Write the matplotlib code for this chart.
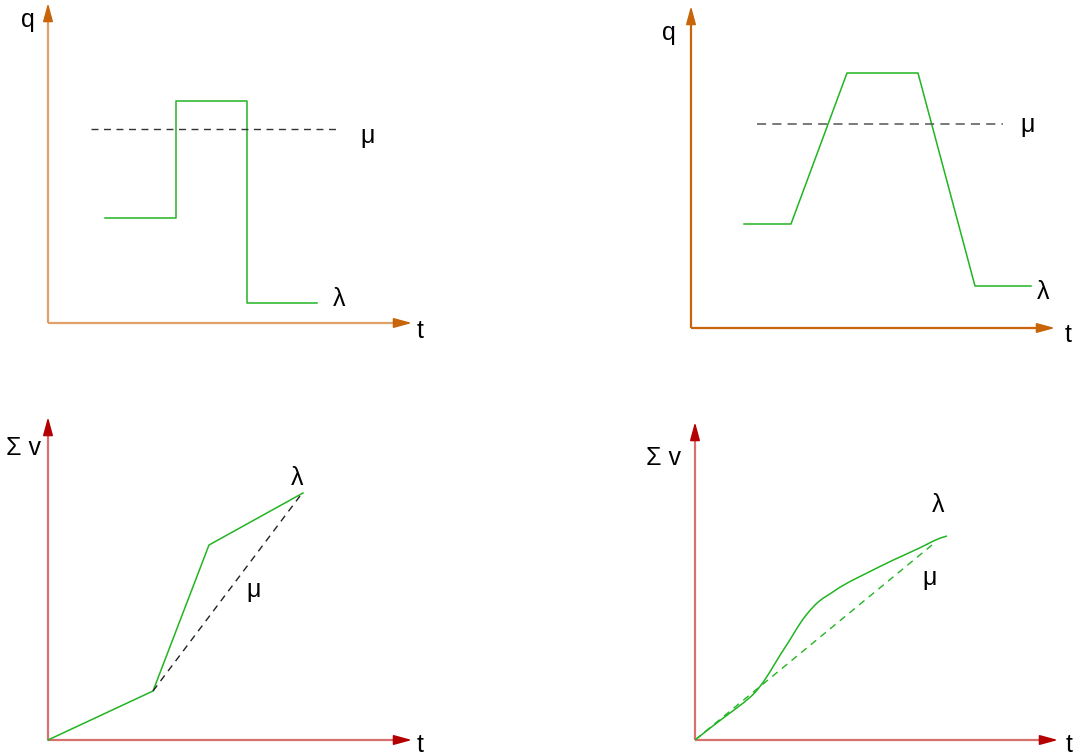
import numpy as np
import matplotlib.pyplot as plt
from matplotlib.path import Path
from matplotlib.patches import PathPatch

plt.rcParams['font.family'] = ['Liberation Sans', 'DejaVu Sans']

W, H = 1082, 755

# panel 1: step change of flow q over time t (units: px from origin)
p1_t = [57, 128, 128, 199, 199, 269]
p1_q = [105, 105, 222, 222, 20, 20]
p1_mu_t = [43, 290]
p1_mu_q = [194, 194]

# panel 2: ramped change of flow
p2_t = [53, 100, 156, 227, 284, 340]
p2_q = [104, 104, 255, 255, 42, 42]
p2_mu_t = [66, 312]
p2_mu_q = [204, 204]

# panel 3: cumulative volume, piecewise
p3_t = [0, 105, 161, 255]
p3_v = [0, 49, 195, 247]
p3_mu_t = [105, 252]
p3_mu_v = [49, 244]

# panel 4: cumulative volume, smooth
p4_t = [0, 15, 35, 55, 65, 75, 85, 95, 105, 115, 125, 135, 148, 172, 198, 225, 242, 252]
p4_v = [0, 12, 27, 42, 53, 68, 85, 100, 117, 130, 140, 146, 155, 167, 180, 192, 201, 204]
p4_mu_t = [0, 237]
p4_mu_v = [0, 195]

green = '#22b422'
orange_line = '#e0a068'
orange_head = '#c8640a'
red_line = '#d87070'
red_head = '#b40000'

fig = plt.figure(figsize=(W / 100, H / 100), dpi=100)


def panel(x0, y0, x1, y1, ox, oy):
    # axes over pixel box (x0,y0)-(x1,y1), data origin at pixel (ox, oy)
    ax = fig.add_axes([x0 / W, 1 - y1 / H, (x1 - x0) / W, (y1 - y0) / H])
    ax.set_xlim(x0 - ox, x1 - ox)
    ax.set_ylim(oy - y1, oy - y0)
    ax.axis('off')
    return ax


def axes_arrows(ax, xlen, ylen, lc, hc):
    ax.plot([0, xlen - 12], [0, 0], color=lc, lw=1.6, solid_capstyle='butt')
    ax.plot([0, 0], [0, ylen - 12], color=lc, lw=1.6, solid_capstyle='butt')
    ap = dict(arrowstyle='-|>,head_length=1.1,head_width=0.3', color=hc, lw=1.2,
              shrinkA=0, shrinkB=0)
    ax.annotate('', xy=(xlen, 0), xytext=(xlen - 16, 0), arrowprops=ap)
    ax.annotate('', xy=(0, ylen), xytext=(0, ylen - 16), arrowprops=ap)


def smooth_curve(ax, xs, ys, **kw):
    # quadratic bezier through midpoints, read points used as control points
    pts = np.column_stack([xs, ys]).astype(float)
    verts = [pts[0]]
    codes = [Path.MOVETO]
    for i in range(1, len(pts) - 1):
        verts += [pts[i], (pts[i] + pts[i + 1]) / 2]
        codes += [Path.CURVE3, Path.CURVE3]
    verts.append(pts[-1])
    codes.append(Path.LINETO)
    ax.add_patch(PathPatch(Path(verts, codes), fill=False, **kw))


fs = 18

# top-left
ax = panel(0, 0, 541, 377, 48, 323)
axes_arrows(ax, 364, 320, orange_line, orange_head)
ax.plot(p1_t, p1_q, color=green, lw=1.1)
ax.plot(p1_mu_t, p1_mu_q, color='#333333', lw=1.0, dashes=(5, 4))
ax.text(-20, 303, 'q', fontsize=fs, ha='center', va='center')
ax.text(372, -8, 't', fontsize=fs, ha='center', va='center')
ax.text(320, 187, 'μ', fontsize=fs, ha='center', va='center')
ax.text(291, 24, 'λ', fontsize=fs, ha='center', va='center')

# top-right
ax = panel(541, 0, 1082, 377, 691, 328)
axes_arrows(ax, 364, 322, orange_head, orange_head)
ax.plot(p2_t, p2_q, color=green, lw=1.1)
ax.plot(p2_mu_t, p2_mu_q, color='#555555', lw=1.1, dashes=(6, 4))
ax.text(-22, 295, 'q', fontsize=fs, ha='center', va='center')
ax.text(377, -7, 't', fontsize=fs, ha='center', va='center')
ax.text(337, 203, 'μ', fontsize=fs, ha='center', va='center')
ax.text(352, 36, 'λ', fontsize=fs, ha='center', va='center')

# bottom-left
ax = panel(0, 377, 541, 755, 48, 740)
axes_arrows(ax, 364, 323, red_line, red_head)
ax.plot(p3_t, p3_v, color=green, lw=1.1)
ax.plot(p3_mu_t, p3_mu_v, color='#222222', lw=1.0, dashes=(5, 4))
ax.text(-24, 292, 'Σ v', fontsize=fs, ha='center', va='center')
ax.text(372, -5, 't', fontsize=fs, ha='center', va='center')
ax.text(206, 150, 'μ', fontsize=fs, ha='center', va='center')
ax.text(249, 262, 'λ', fontsize=fs, ha='center', va='center')

# bottom-right
ax = panel(541, 377, 1082, 755, 695, 740)
axes_arrows(ax, 363, 318, red_line, red_head)
smooth_curve(ax, p4_t, p4_v, edgecolor=green, lw=1.1)
ax.plot(p4_mu_t, p4_mu_v, color=green, lw=1.0, dashes=(5, 4))
ax.text(-31, 282, 'Σ v', fontsize=fs, ha='center', va='center')
ax.text(374, -5, 't', fontsize=fs, ha='center', va='center')
ax.text(235, 162, 'μ', fontsize=fs, ha='center', va='center')
ax.text(243, 235, 'λ', fontsize=fs, ha='center', va='center')

fig.savefig('out.png', dpi=100)
